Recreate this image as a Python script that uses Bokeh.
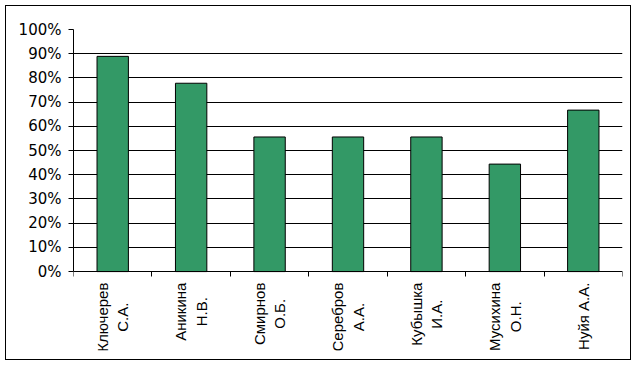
import math
from bokeh.plotting import figure
from bokeh.models import FixedTicker, PrintfTickFormatter, Range1d, ColumnDataSource
from bokeh.core.properties import value
from bokeh.embed import file_html
from bokeh.resources import INLINE

names = ["Ключерев\nС.А.", "Аникина\nН.В.", "Смирнов\nО.Б.", "Серебров\nА.А.",
         "Кубышка\nИ.А.", "Мусихина\nО.Н.", "Нуйя А.А."]
values = [88.9, 77.8, 55.6, 55.6, 55.6, 44.4, 66.7]
y_ticks = [0, 10, 20, 30, 40, 50, 60, 70, 80, 90, 100]

n = len(names)
xs = [i + 0.5 for i in range(n)]
src = ColumnDataSource(dict(x=xs, top=values, name=names, base=[0] * n))

# the frame extends below 0% to hold the category labels
p = figure(width=626, height=355, output_backend="svg", toolbar_location=None,
           x_range=Range1d(0, n), y_range=Range1d(-32.6, 100),
           min_border_left=67, min_border_right=10, min_border_top=23, min_border_bottom=11)
p.styles = {"margin": "5px", "border": "1px solid black"}
p.outline_line_color = None
p.background_fill_color = "white"
p.border_fill_color = "white"

p.vbar(x="x", top="top", width=0.4, bottom=0, source=src,
       fill_color="#339966", line_color="black", line_width=1)

# x axis drawn at 0%, tick marks between categories
p.xaxis.fixed_location = 0
p.xaxis.ticker = FixedTicker(ticks=xs, minor_ticks=list(range(n + 1)))
p.xaxis.major_label_overrides = {x: "" for x in xs}
p.xaxis.major_label_standoff = 0
p.xaxis.major_label_text_font_size = "1px"
p.xaxis.major_tick_out = 0
p.xaxis.major_tick_in = 0
p.xaxis.minor_tick_out = 5
p.xaxis.minor_tick_in = 0
p.xaxis.minor_tick_line_color = "black"
p.xaxis.axis_line_color = "black"

# category labels, centred lines, rotated
p.text(x="x", y="base", text="name", source=src, angle=math.pi / 2,
       anchor="center_right", text_align="center", y_offset=11,
       text_font=value("Liberation Sans"), text_font_size="15px", text_color="black",
       text_line_height=1.2)

p.yaxis.bounds = (0, 100)
p.yaxis.ticker = FixedTicker(ticks=y_ticks)
p.yaxis.formatter = PrintfTickFormatter(format="%d%%")
p.yaxis.major_tick_out = 5
p.yaxis.major_tick_in = 0
p.yaxis.minor_tick_line_color = None
p.yaxis.major_label_standoff = 7
p.yaxis.major_label_text_font = "DejaVu Sans"
p.yaxis.major_label_text_font_size = "15px"
p.yaxis.major_label_text_color = "black"
p.yaxis.axis_line_color = "black"
p.yaxis.major_tick_line_color = "black"

p.xgrid.visible = False
p.ygrid.ticker = FixedTicker(ticks=y_ticks[1:-1])
p.ygrid.grid_line_color = "black"
p.ygrid.grid_line_width = 1

open("out.html", "w").write(file_html(p, INLINE))
